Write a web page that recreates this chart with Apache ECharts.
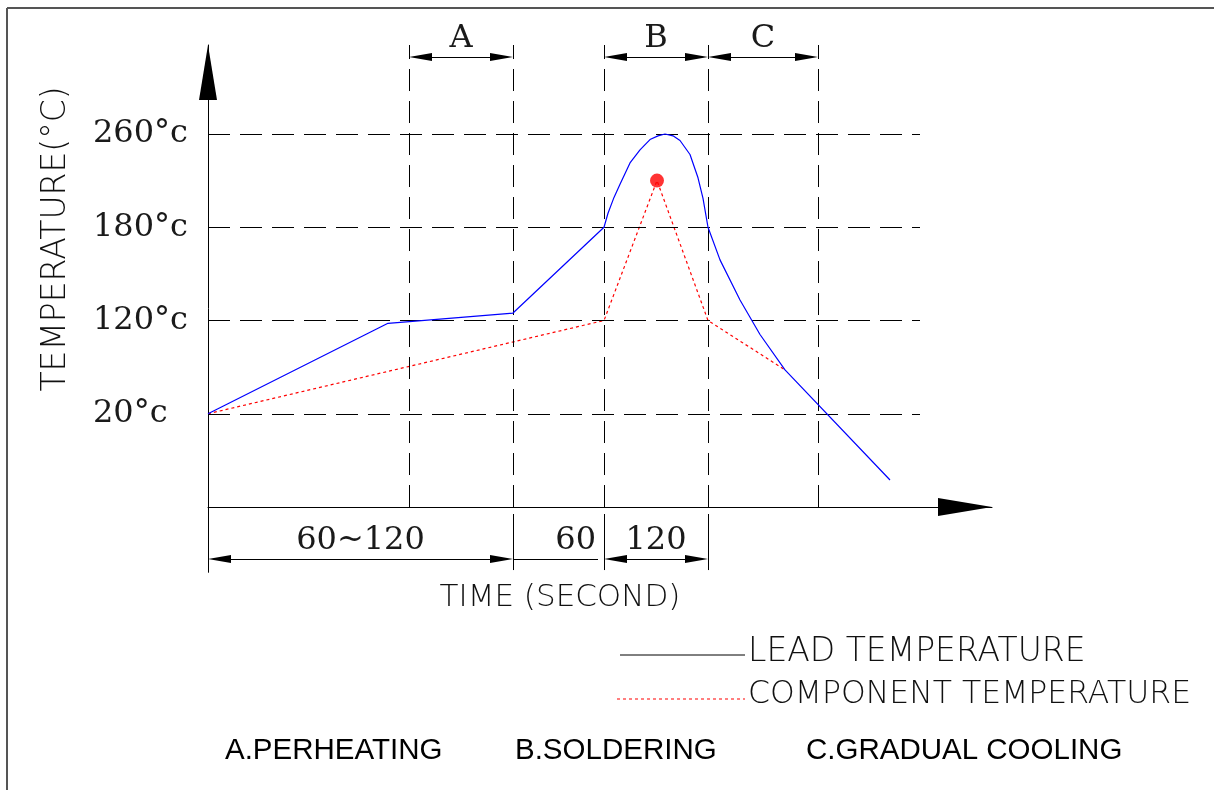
<!DOCTYPE html>
<html><head><meta charset="utf-8">
<script src="https://cdn.jsdelivr.net/npm/echarts@6/dist/echarts.min.js"></script>
<style>html,body{margin:0;padding:0;background:#fff}#c{width:1214px;height:790px}</style>
</head><body><div id="c"></div>
<script>
// x: position along the time axis (drawing units), y: temperature level index
const levelValues = [1, 2, 3, 4];
const levelLabels = ['20°c', '120°c', '180°c', '260°c'];
const phaseEdges = [0, 201, 305, 396, 500, 610];
const leadX = [0, 180, 305, 396, 400, 406, 412, 422, 432, 442, 450, 457, 465, 472, 482, 490, 495, 500, 512, 532, 552, 577, 682];
const leadY = [1.0, 1.97, 2.08, 3.0, 3.15, 3.32, 3.46, 3.69, 3.83, 3.94, 3.98, 4.0, 3.98, 3.93, 3.78, 3.53, 3.31, 3.0, 2.65, 2.22, 1.85, 1.47, 0.29];
const compX = [0, 396, 449, 500, 577];
const compY = [1.0, 2.0, 3.5, 2.0, 1.47];
const peakX = [449];
const peakY = [3.5];
const topDimLabels = ['A', 'B', 'C'];
const bottomDimLabels = ['60~120', '60', '120'];
const legendLabels = ['LEAD TEMPERATURE', 'COMPONENT TEMPERATURE'];
const phaseNotes = ['A.PERHEATING', 'B.SOLDERING', 'C.GRADUAL COOLING'];
const axisTitleY = 'TEMPERATURE(°C)';
const axisTitleX = 'TIME (SECOND)';

const X_MAX = 784, Y_MIN = -0.7, Y_MAX = 4.954;
const GRID_END = 712, DIM_TOP = 4.826, DIM_BOT = -0.558, EXT_TOP = -0.075, EXT_BOT = -0.676;
const AH = 11.5; // half arrow length in x units (1 unit = 1 px)

const serif = 'DejaVu Serif';
const cad = 'DejaVu Sans';
const dashed = { color: '#000', width: 1, type: [22, 10] };
const solid = { color: '#000', width: 1, type: 'solid' };

const guides = [];
levelValues.forEach(v => guides.push([{ coord: [0, v], lineStyle: dashed }, { coord: [GRID_END, v] }]));
phaseEdges.slice(1).forEach(x => guides.push([{ coord: [x, 0], lineStyle: dashed }, { coord: [x, Y_MAX] }]));
[phaseEdges[2], phaseEdges[3], phaseEdges[4]].forEach(x => guides.push([{ coord: [x, EXT_TOP], lineStyle: solid }, { coord: [x, EXT_BOT] }]));
// plain dimension line for the "60" span
guides.push([{ coord: [phaseEdges[2], DIM_BOT], lineStyle: solid,
  label: { show: true, formatter: bottomDimLabels[1], position: 'insideEndTop', distance: 2, fontFamily: serif, fontSize: 32, color: '#1a1a1a' } },
  { coord: [phaseEdges[3] - 6, DIM_BOT] }]);

function dimLabel(text) {
  return { show: true, formatter: text, position: 'insideMiddleTop', distance: 2, fontFamily: serif, fontSize: 32, color: '#1a1a1a' };
}
function dim(x1, x2, y, text) {
  return [{ coord: [x1 + AH, y], label: dimLabel(text) }, { coord: [x2 - AH, y] }];
}
const dims = [
  dim(phaseEdges[1], phaseEdges[2], DIM_TOP, topDimLabels[0]),
  dim(phaseEdges[3], phaseEdges[4], DIM_TOP, topDimLabels[1]),
  dim(phaseEdges[4], phaseEdges[5], DIM_TOP, topDimLabels[2]),
  dim(phaseEdges[0], phaseEdges[2], DIM_BOT, bottomDimLabels[0]),
  dim(phaseEdges[3], phaseEdges[4], DIM_BOT, bottomDimLabels[2])
];

const cadText = { fontFamily: cad, fontWeight: 200, fill: '#111' };
const noteText = { fontFamily: 'Liberation Sans', fontSize: 29.5, fill: '#000', align: 'left', verticalAlign: 'middle' };
const graphic = [
  { type: 'line', shape: { x1: 7, y1: 8, x2: 1214, y2: 8 }, style: { stroke: '#555', lineWidth: 2 } },
  { type: 'line', shape: { x1: 7, y1: 8, x2: 7, y2: 790 }, style: { stroke: '#555', lineWidth: 2 } },
  { type: 'text', x: 56, y: 239, rotation: Math.PI / 2, style: Object.assign({ text: axisTitleY, fontSize: 33, align: 'center', verticalAlign: 'middle' }, cadText) },
  { type: 'text', x: 560, y: 598, style: Object.assign({ text: axisTitleX, fontSize: 31, align: 'center', verticalAlign: 'middle' }, cadText) },
  { type: 'line', shape: { x1: 620, y1: 655, x2: 745, y2: 655 }, style: { stroke: '#000', lineWidth: 1 } },
  { type: 'line', shape: { x1: 617, y1: 699, x2: 745, y2: 699 }, style: { stroke: '#ff0000', lineWidth: 1, lineDash: [3, 3] } },
  { type: 'text', x: 748, y: 652, style: Object.assign({ text: legendLabels[0], fontSize: 33, align: 'left', verticalAlign: 'middle' }, cadText) },
  { type: 'text', x: 748, y: 695, style: Object.assign({ text: legendLabels[1], fontSize: 31.5, align: 'left', verticalAlign: 'middle' }, cadText) },
  { type: 'text', x: 225, y: 751, style: Object.assign({ text: phaseNotes[0] }, noteText) },
  { type: 'text', x: 515, y: 751, style: Object.assign({ text: phaseNotes[1] }, noteText) },
  { type: 'text', x: 806, y: 751, style: Object.assign({ text: phaseNotes[2] }, noteText) }
];

const chart = echarts.init(document.getElementById('c'));
chart.setOption({
  animation: false,
  backgroundColor: '#fff',
  grid: { left: 208, right: 222, top: 45, bottom: 217.7, containLabel: false },
  xAxis: {
    type: 'value', min: 0, max: X_MAX,
    axisLine: { show: true, onZero: true, symbol: ['none', 'triangle'], symbolSize: [18, 54], symbolOffset: [0, -27], lineStyle: { color: '#000', width: 1 } },
    axisTick: { show: false }, axisLabel: { show: false }, splitLine: { show: false }
  },
  yAxis: {
    type: 'value', min: Y_MIN, max: Y_MAX,
    axisLine: { show: true, onZero: true, symbol: ['none', 'triangle'], symbolSize: [18, 55], symbolOffset: [0, -27.5], lineStyle: { color: '#000', width: 1 } },
    axisTick: { show: false }, splitLine: { show: false },
    axisLabel: {
      customValues: levelValues,
      formatter: v => levelLabels[levelValues.indexOf(v)],
      align: 'left', margin: 115, fontFamily: serif, fontSize: 32, color: '#1a1a1a'
    }
  },
  graphic: graphic,
  series: [
    { type: 'line', name: 'guides', data: [], silent: true,
      markLine: { silent: true, animation: false, symbol: ['none', 'none'], label: { show: false }, lineStyle: dashed, data: guides } },
    { type: 'line', name: 'dims', data: [], silent: true,
      markLine: { silent: true, animation: false, symbol: ['triangle', 'triangle'], symbolSize: [8, 23],
        label: { show: false }, lineStyle: solid, itemStyle: { color: '#000' }, data: dims } },
    { type: 'line', name: legendLabels[0], data: leadX.map((x, i) => [x, leadY[i]]), symbol: 'none', z: 5,
      lineStyle: { color: '#0000ff', width: 1.2 } },
    { type: 'line', name: legendLabels[1], data: compX.map((x, i) => [x, compY[i]]), symbol: 'none', z: 4,
      lineStyle: { color: '#ff0000', width: 1.2, type: [3, 3] } },
    { type: 'scatter', name: 'peak', data: peakX.map((x, i) => [x, peakY[i]]), symbol: 'circle', symbolSize: 14, z: 6,
      itemStyle: { color: '#ff0000' } }
  ]
});
</script>
</body></html>
